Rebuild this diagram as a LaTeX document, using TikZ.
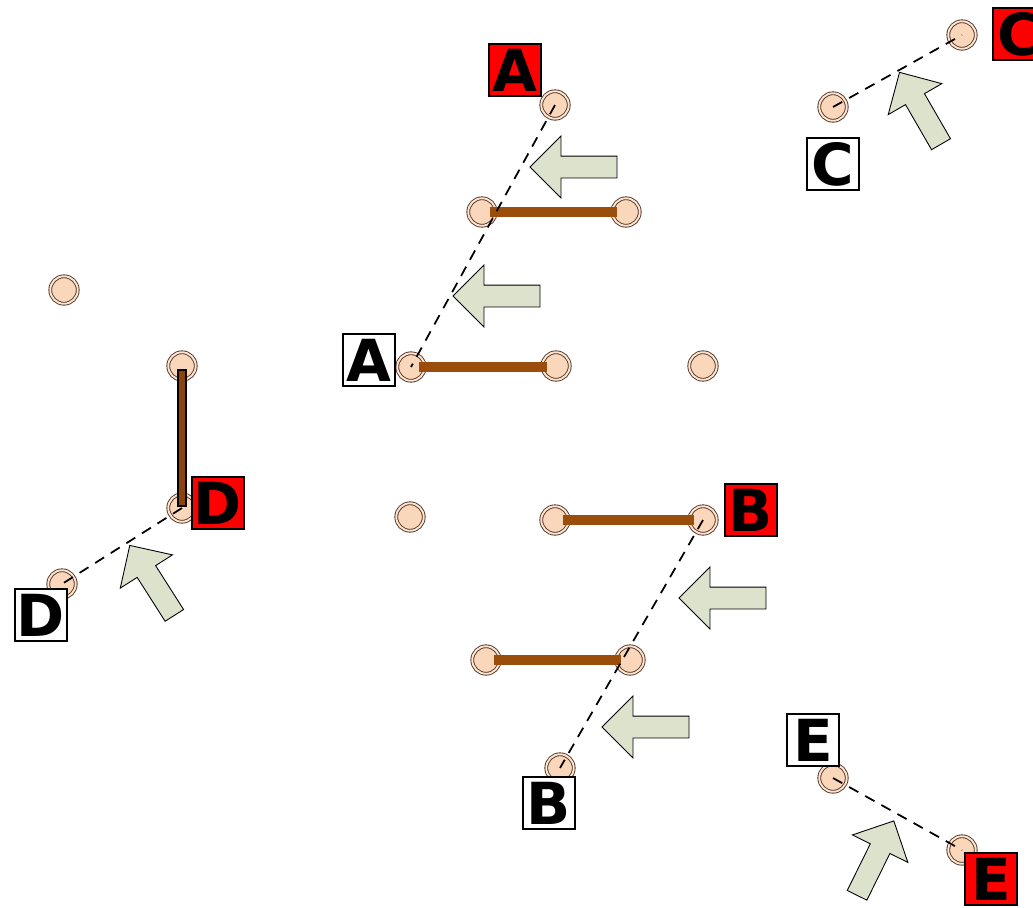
\documentclass[tikz,border=0pt]{standalone}
\usepackage{fontspec}
\setsansfont{DejaVu Sans}
\usepackage{tikz}
\usetikzlibrary{shapes.arrows}
\pgfdeclarelayer{nodelayer}
\pgfdeclarelayer{edgelayer}
\pgfdeclarelayer{labellayer}
\pgfsetlayers{nodelayer,edgelayer,labellayer,main}
\tikzstyle{none} = [inner sep=0pt]
\tikzstyle{Peach Site}=[shape=circle, minimum size=0.55cm, inner sep=0pt, fill={rgb,255: red,250; green,214; blue,186}, draw={rgb,255: red,80; green,52; blue,38}, line width=0.5pt, double={rgb,255: red,252; green,228; blue,208}, double distance=1.1pt]
\tikzstyle{Brown Bar}=[-, line width=0.2cm, draw={rgb,255: red,155; green,77; blue,12}, shorten <=0.16cm, shorten >=0.18cm]
\tikzstyle{Outlined Bar}=[draw=black, line width=0.7pt, fill={rgb,255: red,140; green,68; blue,12}]
\tikzstyle{Dashed Jump}=[-, draw=black, line width=1pt, dash pattern=on 6pt off 4.5pt]
\tikzstyle{White Label}=[shape=rectangle, draw=black, line width=0.9pt, fill=white, minimum size=1.03cm, inner sep=0pt, font=\sffamily\bfseries\fontsize{33}{36}\selectfont]
\tikzstyle{Red Label}=[style=White Label, fill={rgb,255: red,255; green,0; blue,0}]
\tikzstyle{Block Arrow}=[shape=single arrow, draw=black, line width=0.5pt, fill={rgb,255: red,221; green,226; blue,205}, inner xsep=0pt, inner ysep=0.21cm, single arrow head extend=0.4cm, minimum height=1.74cm]
\tikzstyle{Short Arrow}=[style=Block Arrow, minimum height=1.66cm]

\begin{document}
\begin{tikzpicture}[x=0.02cm, y=-0.02cm]
	\useasboundingbox (0, 0) rectangle (1033, 907);
	\begin{pgfonlayer}{nodelayer}
		\node [style=Peach Site] (0) at (555, 105) {};
		\node [style=Peach Site] (1) at (482, 212) {};
		\node [style=Peach Site] (2) at (626, 212) {};
		\node [style=Peach Site] (3) at (411, 367) {};
		\node [style=Peach Site] (4) at (556, 366) {};
		\node [style=Peach Site] (5) at (703, 366) {};
		\node [style=Peach Site] (6) at (64, 290) {};
		\node [style=Peach Site] (7) at (182, 366) {};
		\node [style=Peach Site] (8) at (182, 508) {};
		\node [style=Peach Site] (9) at (62, 584) {};
		\node [style=Peach Site] (10) at (410, 517) {};
		\node [style=Peach Site] (11) at (555, 520) {};
		\node [style=Peach Site] (12) at (703, 520) {};
		\node [style=Peach Site] (13) at (486, 660) {};
		\node [style=Peach Site] (14) at (630, 660) {};
		\node [style=Peach Site] (15) at (560, 768) {};
		\node [style=Peach Site] (16) at (833, 107) {};
		\node [style=Peach Site] (17) at (962, 35) {};
		\node [style=Peach Site] (18) at (833, 778) {};
		\node [style=Peach Site] (19) at (962, 850) {};
		\node [style=none] (37) at (178, 370) {};
		\node [style=none] (38) at (186, 506) {};
	\end{pgfonlayer}
	\begin{pgfonlayer}{edgelayer}
		\draw [style=Brown Bar] (1.center) to (2.center);
		\draw [style=Brown Bar] (3.center) to (4.center |- 3.center);
		\draw [style=Brown Bar] (11.center) to (12.center);
		\draw [style=Brown Bar] (13.center) to (14.center);
		\draw [style=Outlined Bar] (37.center) rectangle (38.center);
		\draw [style=Dashed Jump] (0.center) to (3.center);
		\draw [style=Dashed Jump] (12.center) to (15.center);
		\draw [style=Dashed Jump] (8.center) to (9.center);
		\draw [style=Dashed Jump] (16.center) to (17.center);
		\draw [style=Dashed Jump] (18.center) to (19.center);
		\node [style=Block Arrow, rotate=180] (30) at (579, 167) {};
		\node [style=Block Arrow, rotate=180] (31) at (502, 296) {};
		\node [style=Block Arrow, rotate=180] (32) at (728, 598) {};
		\node [style=Block Arrow, rotate=180] (33) at (651, 727) {};
		\node [style=Short Arrow, rotate=122.5] (34) at (155, 585) {};
		\node [style=Short Arrow, rotate=120] (35) at (923, 113) {};
		\node [style=Short Arrow, rotate=63.7] (36) at (873, 863) {};
	\end{pgfonlayer}
	\begin{pgfonlayer}{labellayer}
		\node [style=Red Label] (20) at (515, 70) {A};
		\node [style=White Label] (21) at (369, 360) {A};
		\node [style=Red Label] (22) at (751, 510) {B};
		\node [style=White Label] (23) at (549, 803) {B};
		\node [style=White Label] (24) at (833, 164) {C};
		\node [style=Red Label] (25) at (1019, 34) {C};
		\node [style=Red Label] (26) at (218, 503) {D};
		\node [style=White Label] (27) at (41, 615) {D};
		\node [style=White Label] (28) at (813, 740) {E};
		\node [style=Red Label] (29) at (991, 879) {E};
	\end{pgfonlayer}
\end{tikzpicture}
\end{document}
